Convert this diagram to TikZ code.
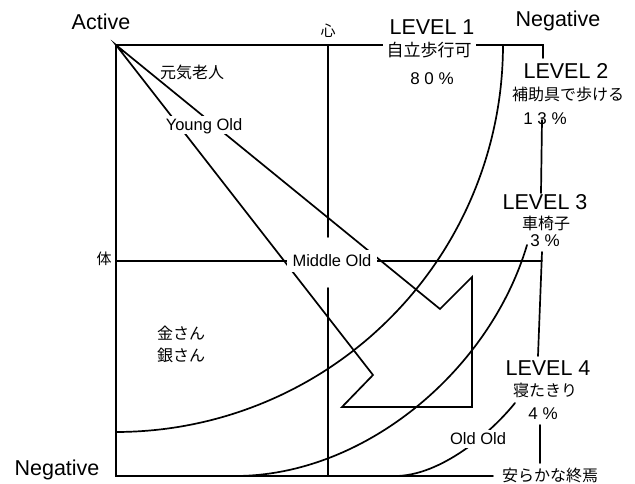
\documentclass[tikz,border=0pt]{standalone}
\usepackage{fontspec}
\setmainfont{Liberation Sans}
\newfontfamily\cjk{Noto Sans CJK JP}
\begin{document}
\begin{tikzpicture}[x=1pt,y=-1pt,
  ln/.style={line width=1.7pt, line cap=round, line join=miter},
  big/.style={font=\fontsize{21.5}{24}\selectfont, text height=15.4pt, text depth=0pt, inner sep=0pt},
  lab/.style={font=\fontsize{16.5}{20}\selectfont, text height=11.8pt, text depth=0pt, inner sep=0pt},
  pct/.style={font=\fontsize{17}{20}\selectfont, text height=12.2pt, text depth=0pt, inner sep=0pt},
  jp/.style={font=\cjk\fontsize{16}{20}\selectfont, text height=12.9pt, text depth=0.8pt, inner sep=0pt},
  jpb/.style={font=\cjk\fontsize{17}{20}\selectfont, text height=13.7pt, text depth=0.8pt, inner sep=0pt},
  jps/.style={font=\cjk\fontsize{15}{18}\selectfont, text height=12.1pt, text depth=0.8pt, inner sep=0pt},
  cover/.style={fill=white, inner xsep=5pt, inner ysep=3pt},
]
\useasboundingbox (0,0) rectangle (635,484);

% named corner points
\coordinate (O) at (116,45);
\coordinate (TR) at (543,45);
\coordinate (BL) at (116,476);
\coordinate (BE) at (493,476);
% arrow vertices
\coordinate (nl) at (373,375);
\coordinate (nb) at (342,407);
\coordinate (br) at (472,407);
\coordinate (tr) at (472,277);
\coordinate (nr) at (440,309);

% frame
\draw[ln] (543,58) -- (TR) -- (O) -- (BL) -- (BE);
% axes
\draw[ln] (328,45) -- (328,237);
\draw[ln] (328,288) -- (328,476);
\draw[ln] (116,261) -- (542,261);
% right connectors
\draw[ln] (542,120) -- (541,193);
\draw[ln] (542,252) -- (538,356);
\draw[ln] (540,425) -- (540,463);

% arrow
\draw[ln] (O) -- (nl) -- (nb) -- (br) -- (tr) -- (nr) -- cycle;

% level curves
\draw[ln] plot[domain=0:90, samples=80, smooth] ({116+387*cos(\x)},{45+387*sin(\x)});
\draw[ln] (527,245) .. controls (490,370) and (365,476) .. (235,476);
\draw[ln] (515,403) .. controls (490,434) and (440,476) .. (395,476);

% labels
\node[big] (act) at (101,22) {Active};
\node[big] (negt) at (558,19) {Negative};
\node[big] (negb) at (57,468) {Negative};
\node[jps] (xin) at (328,31) {心};
\node[jps] (tai) at (104,259) {体};

\node[jp] (genki) at (192,72) {元気老人};
\node[lab, cover] (yo) at (204,125) {Young Old};
\node[lab, cover, inner xsep=6pt, inner ysep=5pt] (mo) at (332,261) {Middle Old};
\node[lab, cover, inner xsep=3pt] (oo) at (478,439) {Old Old};
\node[jp] (kin) at (181,333) {金さん};
\node[jp] (gin) at (181,355) {銀さん};

\node[big] (l1) at (432,27) {LEVEL 1};
\node[jpb, cover, inner xsep=4pt, inner ysep=2pt] (l1t) at (429,50) {自立歩行可};
\node[pct] (l1p) at (432,78) {8\ 0\ \%};

\node[big] (l2) at (566,71) {LEVEL 2};
\node[jp] (l2t) at (568,94) {補助具で歩ける};
\node[pct] (l2p) at (545,118) {1\ 3\ \%};

\node[big] (l3) at (545,202) {LEVEL 3};
\node[jp] (l3t) at (546,223) {車椅子};
\node[pct] (l3p) at (545,240) {3\ \%};

\node[big] (l4) at (548,368) {LEVEL 4};
\node[jp] (l4t) at (545,390) {寝たきり};
\node[pct] (l4p) at (543,413) {4\ \%};

\node[jp] (end) at (550,475) {安らかな終焉};
\end{tikzpicture}
\end{document}
